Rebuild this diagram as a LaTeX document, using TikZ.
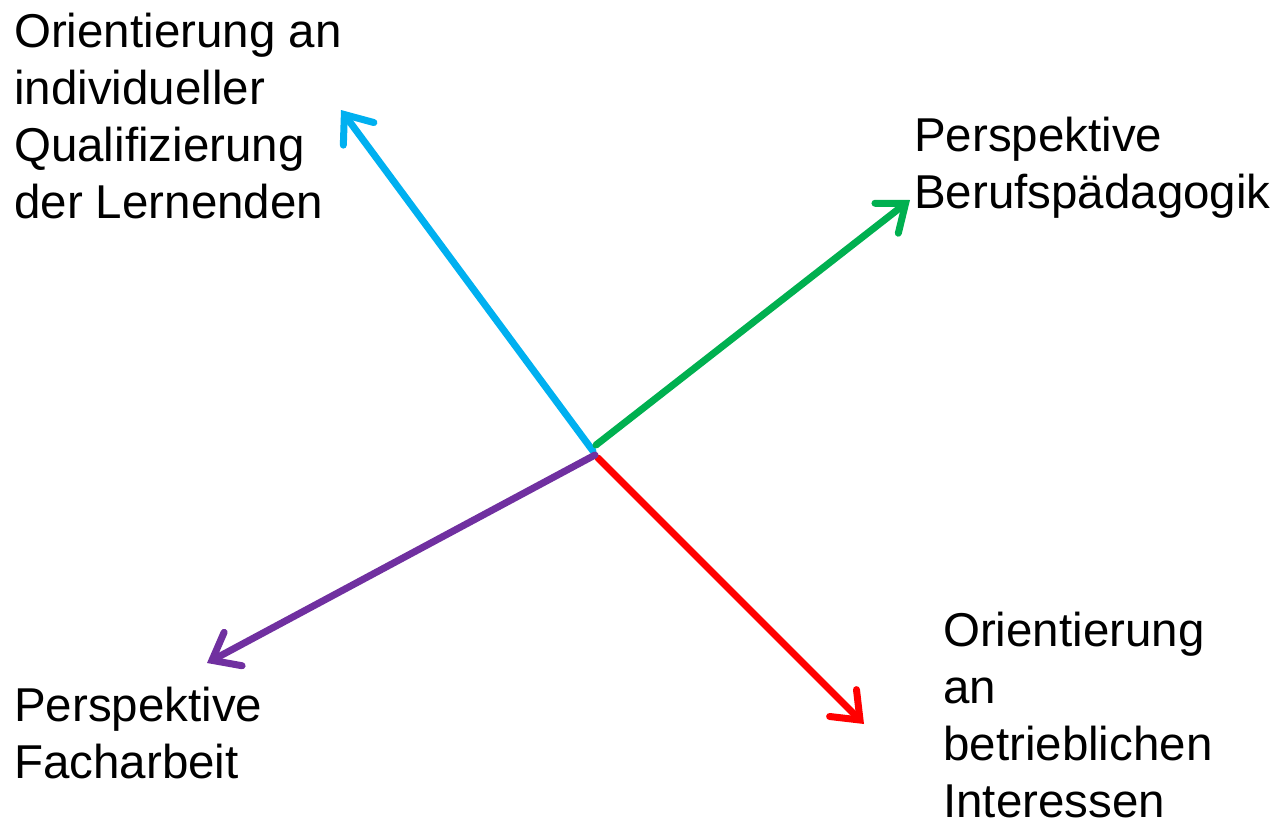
\documentclass[tikz,border=0pt]{standalone}
\usepackage{fontspec}
\setmainfont{Liberation Sans}
\usetikzlibrary{arrows.meta}
\definecolor{ccyan}{RGB}{0,176,240}
\definecolor{cgreen}{RGB}{0,176,80}
\definecolor{cpurple}{RGB}{112,48,160}
\definecolor{cred}{RGB}{255,0,0}
\tikzset{
  axis/.style={line width=7pt, line cap=round, -{Straight Barb[length=24pt,width=38pt,line cap=round,line join=miter]}},
  lbl/.style={anchor=base west, inner sep=0pt, align=left, font=\fontsize{47.5}{57}\selectfont}
}
\begin{document}
\begin{tikzpicture}[x=1pt,y=-1pt]
\useasboundingbox (0,0) rectangle (1285,822);
\coordinate (c1) at (593,451);
\coordinate (c2) at (596,445);
\coordinate (c3) at (595,455);
\coordinate (c4) at (598,458);
\coordinate (tc) at (341,110);
\coordinate (tg) at (910,200);
\coordinate (tp) at (207,663);
\coordinate (tr) at (864,724);
\draw[axis, ccyan] (c1) -- (tc);
\draw[axis, cgreen] (c2) -- (tg);
\draw[axis, cred] (c4) -- (tr);
\draw[axis, cpurple] (c3) -- (tp);
\node[lbl] (l1) at (14,218) {Orientierung an\\individueller\\Qualifizierung\\der Lernenden};
\node[lbl] (l2) at (914,208) {Perspektive\\Berufspädagogik};
\node[lbl] (l3) at (14,778) {Perspektive\\Facharbeit};
\node[lbl] (l4) at (943,817) {Orientierung\\an\\betrieblichen\\Interessen};
\end{tikzpicture}
\end{document}
